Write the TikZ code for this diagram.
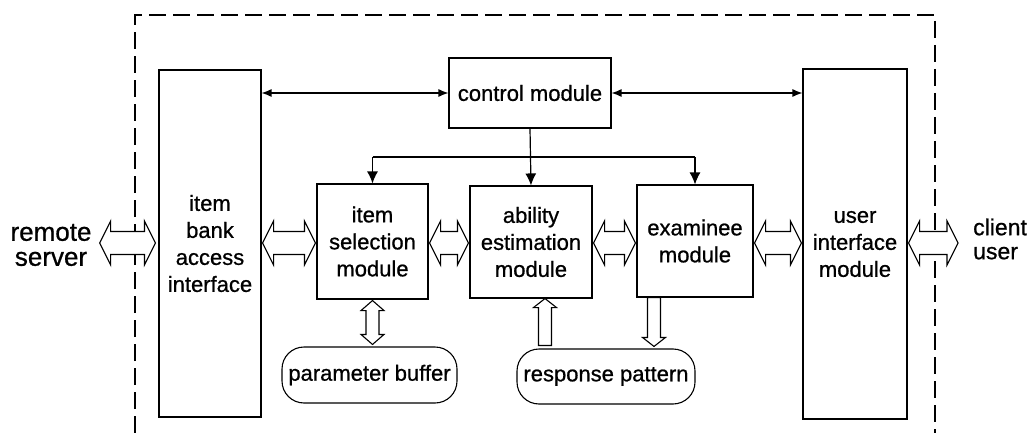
\documentclass[tikz,border=0pt]{standalone}
\usepackage{fontspec}
\setmainfont{Liberation Sans}[FakeBold=0.8]
\usetikzlibrary{arrows.meta,calc}

\tikzset{
  lbl/.style={align=center, inner sep=0pt},
  block/.style={draw, line width=1.1pt, font=\fontsize{22}{27}\selectfont,
                align=center, inner sep=0pt},
  store/.style={block, rounded corners=22pt},
  frame/.style={line width=2pt, dash pattern=on 17pt off 7pt},
  link/.style={line width=1.2pt, {Latex[length=10pt,width=8pt]}-{Latex[length=10pt,width=8pt]}},
  feed/.style={line width=1.2pt, -{Latex[length=12pt,width=11pt]}},
  hollow/.style={draw, fill=white, line width=1.1pt, line join=miter},
}

% horizontal two-headed hollow arrow between two anchors, at the height of (axis)
\newcommand\hollowH[4]{%
  \path[hollow] let \p1=(#1), \p2=(#2), \p3=(axis),
     \n1={\x1+#3pt}, \n2={\x2-#4pt} in
    (\n1,\y3) -- (\n1+11pt,\y3+22pt) -- (\n1+11pt,\y3+11.5pt)
    -- (\n2-11pt,\y3+11.5pt) -- (\n2-11pt,\y3+22pt) -- (\n2,\y3)
    -- (\n2-11pt,\y3-22pt) -- (\n2-11pt,\y3-11.5pt)
    -- (\n1+11pt,\y3-11.5pt) -- (\n1+11pt,\y3-22pt) -- cycle;}

\begin{document}
\begin{tikzpicture}[x=1pt,y=-1pt]
\useasboundingbox (0,0) rectangle (1030,433);

\coordinate (axis) at (0,243);
\coordinate (bus) at (0,157);

% system boundary
\draw[frame] (135,433) -- (135,15) -- (935,15) -- (935,433);

% modules
\node[block, minimum width=102pt, minimum height=347pt] (bank) at (210,243.5)
  {item\\bank\\access\\interface};
\node[block, minimum width=162pt, minimum height=70pt] (ctrl) at (530,93)
  {control module};
\node[block, minimum width=104pt, minimum height=350pt] (ui) at (855,244)
  {user\\interface\\module};
\node[block, minimum width=111pt, minimum height=115pt] (sel) at (372.5,241.5)
  {item\\selection\\module};
\node[block, minimum width=122pt, minimum height=112pt] (abil) at (531,242)
  {ability\\estimation\\module};
\node[block, minimum width=116pt, minimum height=112pt] (exam) at (695,241)
  {examinee\\module};
\node[store, minimum width=175pt, minimum height=56pt] (pbuf) at (369.5,375)
  {parameter buffer};
\node[store, minimum width=178pt, minimum height=55pt] (rpat) at (606,376.5)
  {response pattern};

% external parties
\node[lbl, font=\fontsize{26}{25}\selectfont] (remote) at (51,245) {remote\\server};
\node[lbl, align=left, anchor=west, font=\fontsize{23}{24}\selectfont] (client)
  at (973,239) {client\\user};

% control links
\draw[link] (ctrl.west -| bank.east) -- (ctrl.west);
\draw[link] (ctrl.east) -- (ctrl.east -| ui.west);
\draw[feed] (ctrl.south) -- (abil.north);
\draw[line width=1.2pt] (bus -| sel.north) -- (bus -| exam.north);
\draw[feed] (bus -| sel.north) -- (sel.north);
\draw[feed] (bus -| exam.north) -- (exam.north);

% data flows
\hollowH{remote.east}{bank.west}{8}{3}
\hollowH{bank.east}{sel.west}{1}{1}
\hollowH{sel.east}{abil.west}{1}{1}
\hollowH{abil.east}{exam.west}{1}{1}
\hollowH{exam.east}{ui.west}{1}{1}
\hollowH{ui.east}{client.west}{1}{15}

% parameter buffer exchange (two-headed, vertical)
\path[hollow] let \p1=(sel.south), \p2=(pbuf.north),
   \n1={\y1-1pt}, \n2={\y2+2pt} in
  (\x1,\n1) -- (\x1+11.5pt,\n1-10pt) -- (\x1+6.5pt,\n1-10pt)
  -- (\x1+6.5pt,\n2+10pt) -- (\x1+11.5pt,\n2+10pt) -- (\x1,\n2)
  -- (\x1-11.5pt,\n2+10pt) -- (\x1-6.5pt,\n2+10pt)
  -- (\x1-6.5pt,\n1-10pt) -- (\x1-11.5pt,\n1-10pt) -- cycle;

% response pattern into ability estimation (upward)
\path[hollow] let \p1=(abil.south), \p2=(rpat.north),
   \n1={\x1+14pt} in
  (\n1,\y1) -- (\n1+11.5pt,\y1-9pt) -- (\n1+6.5pt,\y1-9pt)
  -- (\n1+6.5pt,\y2+3pt) -- (\n1-6.5pt,\y2+3pt)
  -- (\n1-6.5pt,\y1-9pt) -- (\n1-11.5pt,\y1-9pt) -- cycle;

% examinee responses into response pattern (downward)
\path[hollow] let \p1=(exam.south), \p2=(rpat.north),
   \n1={\x1-41pt} in
  (\n1-6.5pt,\y1) -- (\n1+6.5pt,\y1) -- (\n1+6.5pt,\y2+11pt)
  -- (\n1+11.5pt,\y2+11pt) -- (\n1,\y2+2pt) -- (\n1-11.5pt,\y2+11pt)
  -- (\n1-6.5pt,\y2+11pt) -- cycle;
\end{tikzpicture}
\end{document}
